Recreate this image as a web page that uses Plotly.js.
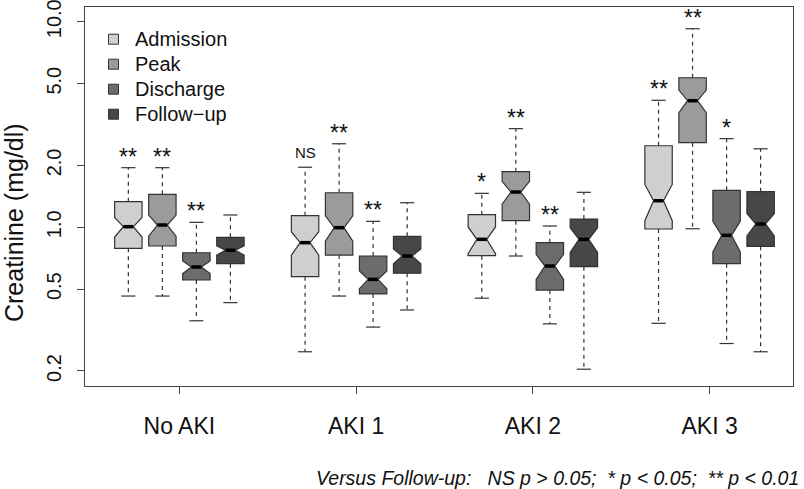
<!DOCTYPE html>
<html>
<head>
<meta charset="utf-8">
<script src="https://cdn.plot.ly/plotly-3.0.1.min.js"></script>
<style>
  body { margin: 0; background: #fff; }
  #plot { width: 804px; height: 489px; }
</style>
</head>
<body>
<div id="plot"></div>
<script>
// groups on the x axis
var groups = ['No AKI', 'AKI 1', 'AKI 2', 'AKI 3'];
var seriesNames = ['Admission', 'Peak', 'Discharge', 'Follow\u2212up'];
var fills = ['#cfcfcf', '#9b9b9b', '#6c6c6c', '#474747'];

// box stats (mg/dl), one array per series, per group
var admLow  = [0.463, 0.248, 0.452, 0.341];
var admQ1   = [0.790, 0.575, 0.728, 0.981];
var admMed  = [1.007, 0.842, 0.874, 1.347];
var admQ3   = [1.332, 1.139, 1.152, 2.494];
var admHigh = [1.95, 1.96, 1.463, 4.15];
var admNotch = [0.11, 0.11, 0.13, 0.27];

var peakLow  = [0.463, 0.463, 0.725, 0.984];
var peakQ1   = [0.811, 0.733, 1.077, 2.58];
var peakMed  = [1.026, 0.996, 1.485, 4.13];
var peakQ3   = [1.447, 1.473, 1.864, 5.34];
var peakHigh = [1.95, 2.55, 3.02, 9.25];
var peakNotch = [0.12, 0.14, 0.19, 0.52];

var disLow  = [0.351, 0.327, 0.339, 0.272];
var disQ1   = [0.554, 0.474, 0.495, 0.665];
var disMed  = [0.641, 0.558, 0.648, 0.914];
var disQ3   = [0.752, 0.725, 0.842, 1.513];
var disHigh = [1.057, 1.069, 1.015, 2.70];
var disNotch = [0.045, 0.055, 0.09, 0.155];

var fuLow  = [0.430, 0.396, 0.204, 0.248];
var fuQ1   = [0.665, 0.598, 0.643, 0.808];
var fuMed  = [0.773, 0.725, 0.874, 1.038];
var fuQ3   = [0.894, 0.904, 1.097, 1.49];
var fuHigh = [1.148, 1.317, 1.48, 2.41];
var fuNotch = [0.04, 0.06, 0.12, 0.13];

// significance vs follow-up
var admSig  = ['**', 'NS', '*', '**'];
var peakSig = ['**', '**', '**', '**'];
var disSig  = ['**', '**', '**', '*'];
var fuSig   = ['', '', '', ''];

var stats = [
  {low: admLow, q1: admQ1, med: admMed, q3: admQ3, high: admHigh, notch: admNotch, sig: admSig},
  {low: peakLow, q1: peakQ1, med: peakMed, q3: peakQ3, high: peakHigh, notch: peakNotch, sig: peakSig},
  {low: disLow, q1: disQ1, med: disMed, q3: disQ3, high: disHigh, notch: disNotch, sig: disSig},
  {low: fuLow, q1: fuQ1, med: fuMed, q3: fuQ3, high: fuHigh, notch: fuNotch, sig: fuSig}
];

var step = 0.1925;      // distance between boxes of a group
var boxW = 0.155;       // box width in x units
var capHalf = 0.04;     // half width of whisker caps
var notchW = 0.32;
var outline = '#333333';

// plot area in px, used to place the hand-made legend
var mL = 85, mT = 7, mB = 103, plotH = 489 - mT - mB;
function py(px) { return (489 - mB - px) / plotH; }
function pxX(px) { return (px - mL) / (804 - mL - 11); }

var traces = [];
var annotations = [];
var shapes = [];

stats.forEach(function (s, k) {
  var off = (k - 1.5) * step;
  var xs = groups.map(function (g, i) { return i + 1 + off; });

  traces.push({
    type: 'box',
    name: seriesNames[k],
    showlegend: false,
    x: xs,
    q1: s.q1, median: s.med, q3: s.q3,
    lowerfence: s.q1, upperfence: s.q3,
    notchspan: s.notch,
    notched: true,
    notchwidth: notchW,
    width: boxW,
    whiskerwidth: 0,
    boxpoints: false,
    fillcolor: fills[k],
    line: {color: outline, width: 1.2},
    hoverinfo: 'skip'
  });

  // dashed whiskers, solid caps, thick medians
  var wx = [], wy = [], cx = [], cy = [], mx = [], my = [];
  var mHalf = boxW / 2 * (1 - 2 * notchW);
  xs.forEach(function (x, i) {
    wx.push(x, x, null, x, x, null);
    wy.push(s.q3[i], s.high[i], null, s.q1[i], s.low[i], null);
    cx.push(x - capHalf, x + capHalf, null, x - capHalf, x + capHalf, null);
    cy.push(s.high[i], s.high[i], null, s.low[i], s.low[i], null);
    mx.push(x - mHalf, x + mHalf, null);
    my.push(s.med[i], s.med[i], null);
    if (s.sig[i]) {
      var isStar = s.sig[i] !== 'NS';
      annotations.push({
        x: x, y: Math.log10(s.high[i]), xref: 'x', yref: 'y',
        text: s.sig[i], showarrow: false,
        yanchor: 'middle', yshift: isStar ? 11 : 15,
        font: {size: isStar ? 23 : 15, color: '#111'}
      });
    }
  });
  traces.push({
    type: 'scatter', mode: 'lines', x: wx, y: wy, showlegend: false, hoverinfo: 'skip',
    line: {color: outline, width: 1.2, dash: '4px,4px'}
  });
  traces.push({
    type: 'scatter', mode: 'lines', x: cx, y: cy, showlegend: false, hoverinfo: 'skip',
    line: {color: outline, width: 1.2}
  });
  traces.push({
    type: 'scatter', mode: 'lines', x: mx, y: my, showlegend: false, hoverinfo: 'skip',
    line: {color: '#000', width: 3.5}
  });

  // legend entry: small square + label
  var ly = 39.2 + 25 * k;
  shapes.push({
    type: 'rect', xref: 'paper', yref: 'paper',
    x0: pxX(108.5), x1: pxX(118.5), y0: py(ly + 5), y1: py(ly - 5),
    fillcolor: fills[k], line: {color: outline, width: 1}
  });
  annotations.push({
    xref: 'paper', yref: 'paper', x: pxX(133), y: py(ly),
    text: seriesNames[k], showarrow: false, xanchor: 'left', yanchor: 'middle',
    font: {size: 20, color: '#111'}
  });
});

annotations.push({
  xref: 'paper', yref: 'paper', x: pxX(14), y: 0.43,
  text: 'Creatinine (mg/dl)', textangle: -90, showarrow: false,
  xanchor: 'center', yanchor: 'middle',
  font: {size: 25, color: '#111'}
});
annotations.push({
  xref: 'paper', yref: 'paper', x: pxX(801), y: py(478),
  text: '<i>Versus Follow-up:   NS p &gt; 0.05;  * p &lt; 0.05;  ** p &lt; 0.01</i>',
  showarrow: false, xanchor: 'right', yanchor: 'middle',
  font: {size: 19.5, color: '#111'}
});

var layout = {
  width: 804, height: 489,
  margin: {l: mL, r: 11, t: mT, b: mB},
  paper_bgcolor: '#fff', plot_bgcolor: '#fff',
  font: {family: 'Liberation Sans, Arial, sans-serif', color: '#111'},
  showlegend: false,
  boxmode: 'overlay',
  xaxis: {
    range: [0.466, 4.472],
    tickvals: [1, 2, 3, 4], ticktext: groups,
    ticks: 'outside', ticklen: 7, tickcolor: '#444',
    showgrid: false, zeroline: false,
    showline: true, mirror: true, linecolor: '#444', linewidth: 1.2,
    tickfont: {size: 23},
    ticklabelstandoff: 12
  },
  yaxis: {
    type: 'log',
    range: [Math.log10(0.169), Math.log10(11.8)],
    tickvals: [0.2, 0.5, 1, 2, 5, 10],
    ticktext: ['0.2', '0.5', '1.0', '2.0', '5.0', '10.0'],
    tickangle: -90,
    ticks: 'outside', ticklen: 7, tickcolor: '#444',
    showgrid: false, zeroline: false,
    showline: true, mirror: true, linecolor: '#444', linewidth: 1.2,
    tickfont: {size: 20},
    ticklabelstandoff: 8,
    ticklabeloverflow: 'allow'
  },
  shapes: shapes,
  annotations: annotations
};

Plotly.newPlot('plot', traces, layout, {staticPlot: true});
</script>
</body>
</html>
